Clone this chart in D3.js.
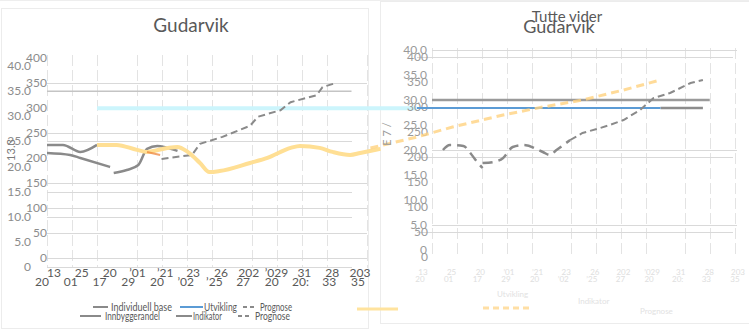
<!DOCTYPE html>
<html><head><meta charset="utf-8">
<script src="https://cdn.jsdelivr.net/npm/d3@7"></script>
<style>
body{margin:0;background:#fff}
svg{display:block;font-family:Lato,"Open Sans","Liberation Sans",sans-serif}
</style>
</head><body>
<svg id="chart" width="749" height="331"></svg>
<script>
// ---- data ----
const decTicks = [0, 5, 10, 15, 20, 25, 30, 35, 40];
const intTicks = [0, 50, 100, 150, 200, 250, 300, 350, 400];
const leftDecGrid = [0, 10, 15, 25];
const leftIntGrid = [0, 50, 100, 150, 250, 350];
const rightDecGrid = [5, 20, 40];
const rightIntGrid = [50, 200, 400];

const xTopLabels = ["13", "25", "20", "\u201901", "\u201921", "23", "26", "202", "\u2019029", "31", "28", "203"];
const xBottomLabels = ["20", "01", "17", "29", "20", "\u201902", "\u201925", "27", "20", "20:", "33", "35"];

// left panel series: [year, value]
const leftLevel = [[2013, 35], [2034.0, 35]];
const leftCyan = [[2016.45, 31.6], [2038.5, 31.6]];
const leftYellow = [[2016.45, 24.3], [2017.8, 24.3], [2019.2, 23.3], [2019.9, 22.9], [2021.3, 23.7], [2022.0, 23.9],
  [2022.7, 22.9], [2023.55, 20.7], [2024.2, 18.9], [2024.9, 19.1], [2027.0, 20.7], [2028.2, 21.7], [2029.8, 23.7],
  [2030.45, 24.1], [2031.8, 23.7], [2032.7, 22.9], [2033.9, 22.3], [2034.6, 22.7], [2036.0, 23.5]];
const leftGrayA = [[2013, 24.3], [2014.1, 24.3], [2015.3, 22.9], [2016.45, 24.3]];
const leftGrayB = [[2013, 22.7], [2014.6, 22.3], [2015.3, 21.7], [2017.35, 19.9]];
const leftGrayC = [[2017.6, 18.7], [2018.5, 19.3], [2019.3, 20.3], [2019.9, 23.5], [2020.6, 24.1], [2021.3, 23.7], [2022.0, 23.1]];
const leftOrange = [[2019.9, 22.9], [2020.8, 22.3]];
const leftPrognosis = [[2020.9, 21.5], [2023.0, 22.3], [2023.55, 24.5], [2025.1, 25.9], [2027.0, 28.1], [2027.55, 29.9],
  [2029.1, 31.2], [2029.8, 32.8], [2031.6, 34.2], [2032.0, 35.8], [2032.9, 36.6]];

// right panel series
const rightLevel = [[2013, 30], [2033.3, 30]];
const rightBlue = [[2011.9, 28.4], [2029.7, 28.4]];
const rightGrayEnd = [[2029.7, 28.4], [2032.8, 28.4]];
const rightYellow = [[2008.5, 20.4], [2011.9, 22.6], [2014.5, 24.6], [2018.2, 27], [2021.1, 28.6], [2024.0, 30], [2027.0, 32], [2029.7, 34]];
const rightPrognosis = [[2023.1, 22], [2024.0, 23.4], [2025.3, 24.4], [2026.0, 25], [2027.0, 26], [2028.2, 28],
  [2029.2, 30.4], [2030.4, 31.4], [2031.9, 33.4], [2032.8, 34]];
const rightWaveA = [[2013.8, 20], [2014.3, 21], [2015.3, 20.8], [2015.8, 19.4], [2016.3, 17.6], [2016.7, 16.4]];
const rightWaveB = [[2016.7, 17.4], [2017.5, 17.6], [2018.2, 18.4], [2018.9, 20.6], [2019.7, 21], [2021.1, 19.6],
  [2021.6, 19], [2022.1, 20], [2023.1, 22]];

const legendRow1 = ["Individuell base", "Utvikling", "Prognose"];
const legendRow2 = ["Innbyggerandel", "Indikator", "Prognose"];
const rightLegend = ["Utvikling", "Indikator", "Prognose"];

// ---- drawing ----
const svg = d3.select("#chart");
const ink = "#595959", grid = "#d9d9d9";

// panel frames
svg.append("rect").attr("x", 1.5).attr("y", 8.5).attr("width", 367).attr("height", 320)
  .attr("fill", "none").attr("stroke", "#ececec");
svg.append("rect").attr("x", 380.5).attr("y", 1.5).attr("width", 372).attr("height", 322)
  .attr("fill", "none").attr("stroke", "#ececec");
svg.append("line").attr("x1", 0).attr("x2", 749).attr("y1", 0.5).attr("y2", 0.5).attr("stroke", "#eeeeee");

function panel(cfg) {
  const g = svg.append("g");
  const x = d3.scaleLinear([2013, 2035], cfg.xRange);
  const yd = d3.scaleLinear([0, 40], cfg.decRange);
  const yi = d3.scaleLinear([0, 400], cfg.intRange);

  // vertical dashed column lines
  g.selectAll(".col").data(cfg.cols).join("line")
    .attr("x1", d => d + 0.5).attr("x2", d => d + 0.5)
    .attr("y1", cfg.colTop).attr("y2", cfg.colBottom)
    .attr("stroke", "#e3e3e3").attr("stroke-dasharray", "11,4");

  // horizontal gridlines, two value axes
  g.selectAll(".gi").data(cfg.intGrid).join("line")
    .attr("x1", cfg.intSpan[0]).attr("x2", cfg.intSpan[1])
    .attr("y1", d => Math.round(yi(d)) + 0.5).attr("y2", d => Math.round(yi(d)) + 0.5)
    .attr("stroke", grid);
  g.selectAll(".gd").data(cfg.decGrid).join("line")
    .attr("x1", cfg.decSpan[0]).attr("x2", cfg.decSpan[1])
    .attr("y1", d => Math.round(yd(d)) + 0.5).attr("y2", d => Math.round(yd(d)) + 0.5)
    .attr("stroke", grid);

  // y tick labels
  g.selectAll(".ld").data(decTicks).join("text")
    .attr("x", cfg.decLabelX).attr("y", d => yd(d) + 4)
    .attr("text-anchor", "end").attr("font-size", 12).attr("fill", cfg.labelInk)
    .text(d => d === 0 ? "0" : d3.format(".1f")(d));
  g.selectAll(".li").data(intTicks).join("text")
    .attr("x", cfg.intLabelX).attr("y", d => yi(d) + 4)
    .attr("text-anchor", "end").attr("font-size", 12).attr("fill", cfg.labelInk)
    .text(d => String(d));

  // x tick labels (two rows)
  const xt = d3.scalePoint(xTopLabels.map((d, i) => i), cfg.topRange);
  const xb = d3.scalePoint(xBottomLabels.map((d, i) => i), cfg.bottomRange);
  g.selectAll(".xt").data(xTopLabels).join("text")
    .attr("x", (d, i) => xt(i)).attr("y", cfg.xLabelY)
    .attr("text-anchor", "middle").attr("font-size", cfg.xFont).attr("fill", cfg.xInk).text(d => d);
  g.selectAll(".xb").data(xBottomLabels).join("text")
    .attr("x", (d, i) => xb(i)).attr("y", cfg.xLabelY + cfg.xRowGap)
    .attr("text-anchor", "middle").attr("font-size", cfg.xFont).attr("fill", cfg.xInk).text(d => d);

  return {g, x, yd, yi};
}

function drawLine(p, data, style, curve) {
  const line = d3.line().x(d => p.x(d[0])).y(d => p.yd(d[1])).curve(curve || d3.curveMonotoneX);
  p.g.append("path").datum(data).attr("d", line).attr("fill", "none")
    .attr("stroke", style.color).attr("stroke-width", style.width)
    .attr("stroke-opacity", style.opacity == null ? 1 : style.opacity)
    .attr("stroke-dasharray", style.dash || null)
    .attr("stroke-linecap", style.cap || "butt");
}

// left panel
const L = panel({
  xRange: [47, 366], decRange: [267, 66], intRange: [258, 58],
  cols: d3.range(12).map(i => 47 + 25 * i + 15 * Math.floor((i + 1) / 4)), colTop: 55, colBottom: 268,
  intGrid: leftIntGrid, decGrid: leftDecGrid, intSpan: [47, 367], decSpan: [47, 352],
  decLabelX: 31, intLabelX: 47, labelInk: "#8c8c8c",
  topRange: [54, 360], bottomRange: [42, 358], xLabelY: 277, xRowGap: 9, xFont: 12, xInk: ink
});
drawLine(L, leftLevel, {color: "#c4c4c4", width: 1.5}, d3.curveLinear);
drawLine(L, leftCyan, {color: "#ccf5fc", width: 4}, d3.curveLinear);
drawLine(L, leftGrayA, {color: "#8a8a8a", width: 2.5});
drawLine(L, leftGrayB, {color: "#8a8a8a", width: 2.5});
drawLine(L, leftGrayC, {color: "#8a8a8a", width: 2.5});
drawLine(L, leftPrognosis, {color: "#8a8a8a", width: 2, dash: "7,4"}, d3.curveLinear);
drawLine(L, leftYellow, {color: "#ffdf94", width: 4});
drawLine(L, leftOrange, {color: "#ed7d31", width: 2, opacity: 0.7}, d3.curveLinear);

// right panel
const R = panel({
  xRange: [432, 733], decRange: [250, 50], intRange: [257, 57],
  cols: d3.range(12).map(i => 432 + 25 * i + 14 * (i < 5 ? 0 : i < 9 ? 1 : 2)), colTop: 48, colBottom: 257,
  intGrid: rightIntGrid, decGrid: rightDecGrid, intSpan: [417, 733], decSpan: [432, 737],
  decLabelX: 427, intLabelX: 428, labelInk: "#9a9a9a",
  topRange: [423, 738], bottomRange: [420, 735], xLabelY: 275, xRowGap: 7, xFont: 8, xInk: "#dedede"
});
drawLine(R, rightLevel, {color: "#9a9a9a", width: 2.5}, d3.curveLinear);
drawLine(R, rightGrayEnd, {color: "#8c8c8c", width: 2.5}, d3.curveLinear);
drawLine(R, rightBlue, {color: "#5b9bd5", width: 2}, d3.curveLinear);
drawLine(R, rightYellow, {color: "#ffd27f", width: 3, dash: "8,5", opacity: 0.8}, d3.curveLinear);
drawLine(R, rightPrognosis, {color: "#8a8a8a", width: 2, dash: "7,4"}, d3.curveLinear);
drawLine(R, rightWaveA, {color: "#8a8a8a", width: 2.5, dash: "10,6"});
drawLine(R, rightWaveB, {color: "#8a8a8a", width: 2.5, dash: "10,6"});

// titles
svg.append("text").attr("x", 191).attr("y", 32).attr("text-anchor", "middle")
  .attr("font-size", 19).attr("fill", ink).text("Gudarvik");
svg.append("text").attr("x", 567).attr("y", 22).attr("text-anchor", "middle")
  .attr("font-size", 15).attr("fill", ink).text("Tutte vider");
svg.append("text").attr("x", 559).attr("y", 33).attr("text-anchor", "middle")
  .attr("font-size", 18).attr("fill", ink).text("Gudarvik");

// rotated axis titles
svg.append("text").attr("transform", "translate(15,150) rotate(-90)").attr("text-anchor", "middle")
  .attr("font-size", 11).attr("fill", "#7a7a7a").text("13.3");
svg.append("text").attr("transform", "translate(391,134) rotate(-90)").attr("text-anchor", "middle")
  .attr("font-size", 11).attr("fill", "#9a9a9a").text("E 7 /");

// left legend
const legend = svg.append("g").attr("font-size", 12).attr("fill", ink);
const row1 = [
  {x1: 93, x2: 108, color: "#8a8a8a", tx: 111, tw: 61},
  {x1: 180, x2: 203, color: "#5b9bd5", tx: 204, tw: 33},
  {x1: 243, x2: 257, color: "#8a8a8a", dash: "4,3", tx: 260, tw: 32}
];
const row2 = [
  {x1: 80, x2: 101, color: "#8a8a8a", tx: 105, tw: 55},
  {x1: 176, x2: 192, color: "#8a8a8a", tx: 193, tw: 29},
  {x1: 238, x2: 252, color: "#8a8a8a", dash: "4,3", tx: 255, tw: 35}
];
function legendRow(items, names, y) {
  items.forEach((it, i) => {
    legend.append("line").attr("x1", it.x1).attr("x2", it.x2).attr("y1", y).attr("y2", y)
      .attr("stroke", it.color).attr("stroke-width", 2).attr("stroke-dasharray", it.dash || null);
    legend.append("text").attr("x", it.tx).attr("y", y + 4).attr("textLength", it.tw)
      .attr("lengthAdjust", "spacingAndGlyphs").text(names[i]);
  });
}
legendRow(row1, legendRow1, 307);
legendRow(row2, legendRow2, 316);
legend.append("line").attr("x1", 357).attr("x2", 398).attr("y1", 309).attr("y2", 309)
  .attr("stroke", "#ffe39e").attr("stroke-width", 3);

// right legend (faint)
const rl = svg.append("g").attr("font-size", 8).attr("fill", "#e2e2e2");
rl.append("line").attr("x1", 483).attr("x2", 533).attr("y1", 308).attr("y2", 308)
  .attr("stroke", "#ffd27f").attr("stroke-width", 3).attr("stroke-dasharray", "6,4").attr("stroke-opacity", 0.7);
rightLegend.forEach((name, i) => {
  rl.append("text").attr("x", [497, 578, 640][i]).attr("y", [297, 304, 314][i]).text(name);
});
</script>
</body></html>
